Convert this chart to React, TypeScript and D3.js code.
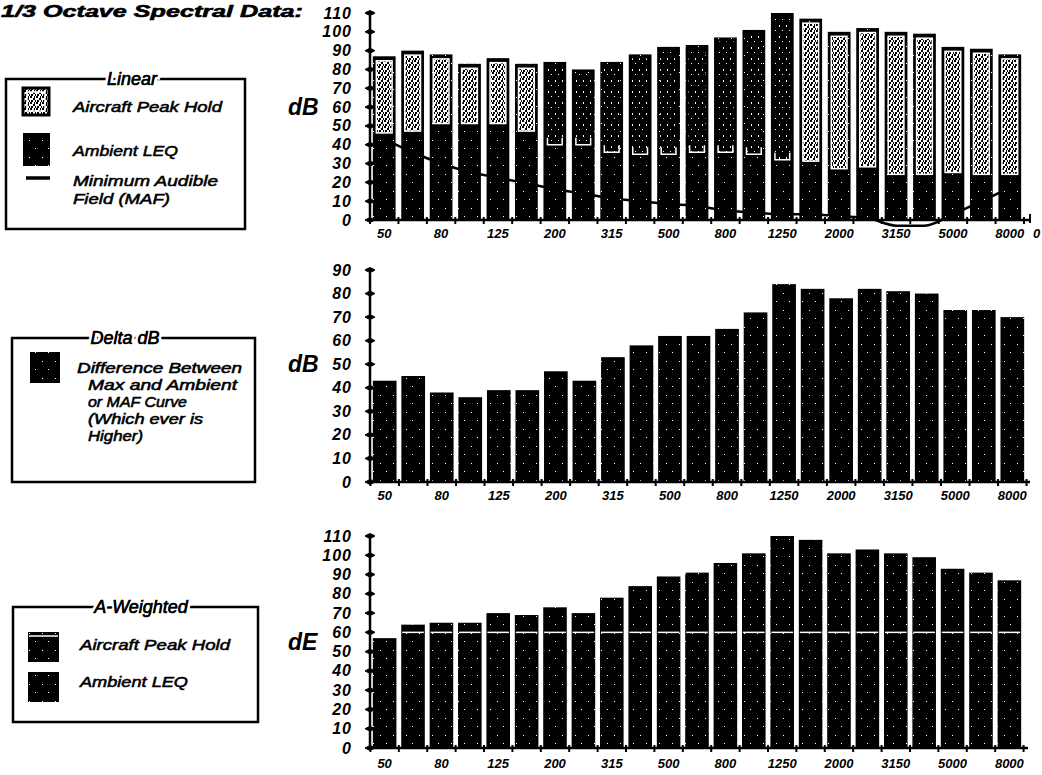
import React from "react";
import * as d3 from "d3";

// ---------- data ----------
const bands = ["50", "63", "80", "100", "125", "160", "200", "250", "315", "400", "500", "630", "800", "1000", "1250", "1600", "2000", "2500", "3150", "4000", "5000", "6300", "8000"];
const labelBands = ["50", "80", "125", "200", "315", "500", "800", "1250", "2000", "3150", "5000", "8000"];

const linearPeak = [87, 90, 88, 83, 86, 83, 84, 80, 84, 88, 92, 93, 97, 101, 110, 107, 100, 102, 100, 99, 92, 91, 88];
const linearAmbient = [46, 47, 51, 51, 51, 47, 40, 40, 36, 35, 35, 36, 36, 35, 32, 31, 27, 28, 24, 24, 25, 24, 24];
const mafCurve = [43, 36, 30, 25.5, 22.5, 19.5, 16.5, 14, 11.5, 10, 8.5, 7.5, 5, 4, 3, 3, 2, 1, -3, -3, 3, 10, 17];
const darkInsetBands = ["200", "250", "315", "400", "500", "630", "800", "1000", "1250"];

const deltaDb = [43, 45, 38, 36, 39, 39, 47, 43, 53, 58, 62, 62, 65, 72, 84, 82, 78, 82, 81, 80, 73, 73, 70];

const aWeightedPeak = [57, 64, 65, 65, 70, 69, 73, 70, 78, 84, 89, 91, 96, 101, 110, 108, 101, 103, 101, 99, 93, 91, 87];
const aWeightedAmbient = [60, 60, 60, 60, 60, 60, 60, 60, 60, 60, 60, 60, 60, 60, 60, 60, 60, 60, 60, 60, 60, 60, 60];

const linearTicks = [0, 10, 20, 30, 40, 50, 60, 70, 80, 90, 100, 110];
const deltaTicks = [0, 10, 20, 30, 40, 50, 60, 70, 80, 90];
const aTicks = [0, 10, 20, 30, 40, 50, 60, 70, 80, 90, 100, 110];

const FONT = "'Liberation Sans', Arial, Helvetica, sans-serif";

const AXIS_X = 370;
const X_END = 1024;

type AxisProps = {
  y: d3.ScaleLinear<number, number>;
  ticks: number[];
  x: d3.ScaleBand<string>;
  title: string;
  titleValue: number;
  labelOffset: number;
  xAxisEnd: number;
};

function Axes({ y, ticks, x, title, titleValue, labelOffset, xAxisEnd }: AxisProps) {
  const y0 = y(0);
  const yTop = y(ticks[ticks.length - 1]);
  const step = x.step();
  const gap = step - x.bandwidth();
  const boundaries = bands.map((b) => (x(b) as number) - gap / 2);
  boundaries.push((x(bands[bands.length - 1]) as number) + x.bandwidth() + gap / 2);
  return (
    <g>
      <line x1={AXIS_X} x2={AXIS_X} y1={yTop} y2={y0} stroke="#000" strokeWidth={2.5} />
      <line x1={AXIS_X - 4} x2={AXIS_X + 4} y1={yTop} y2={yTop} stroke="#000" strokeWidth={2.5} />
      {ticks.map((t) => (
        <g key={t}>
          <path
            d={`M${AXIS_X - 5},${y(t)}L${AXIS_X},${y(t) - 2.5}L${AXIS_X + 5},${y(t)}L${AXIS_X},${y(t) + 2.5}Z`}
            fill="#000"
            stroke="#000"
            strokeWidth={1}
          />
          <text
            x={352}
            y={y(t) + 5.5}
            textAnchor="end"
            fontFamily={FONT}
            fontStyle="italic"
            fontWeight="bold"
            fontSize={16}
            letterSpacing={1}
          >
            {t}
          </text>
        </g>
      ))}
      <text x={288} y={y(titleValue) + 8} fontFamily={FONT} fontStyle="italic" fontWeight="bold" fontSize={23}>
        {title}
      </text>
      <line x1={AXIS_X} x2={xAxisEnd} y1={y0} y2={y0} stroke="#000" strokeWidth={2.5} />
      {boundaries.map((bx, i) => (
        <line key={i} x1={bx} x2={bx} y1={y0 - 3} y2={y0 + 4} stroke="#000" strokeWidth={2} />
      ))}
      {labelBands.map((b) => (
        <text
          key={b}
          x={(x(b) as number) + x.bandwidth() / 2}
          y={y0 + labelOffset}
          textAnchor="middle"
          fontFamily={FONT}
          fontStyle="italic"
          fontWeight="bold"
          fontSize={13}
        >
          {b}
        </text>
      ))}
    </g>
  );
}

function LegendBox({ x, y, w, h, title, titleX }: { x: number; y: number; w: number; h: number; title: string; titleX: number }) {
  return (
    <g>
      <rect x={x} y={y} width={w} height={h} fill="#fff" stroke="#000" strokeWidth={2.5} />
      <text
        x={titleX}
        y={y + 6}
        textAnchor="middle"
        fontFamily={FONT}
        fontStyle="italic"
        fontSize={18}
        fill="#000"
        stroke="#fff"
        strokeWidth={6}
        paintOrder="stroke"
      >
        {title}
      </text>
      <text x={titleX} y={y + 6} textAnchor="middle" fontFamily={FONT} fontStyle="italic" fontSize={18} fill="#000" stroke="#000" strokeWidth={0.5}>
        {title}
      </text>
    </g>
  );
}

export default function App() {
  const xTop = d3.scaleBand<string>().domain(bands).range([AXIS_X, X_END]).paddingInner(0.2).paddingOuter(0.1);
  const xMid = d3.scaleBand<string>().domain(bands).range([AXIS_X, X_END + 3]).paddingInner(0.17).paddingOuter(0.1);
  const xBot = d3.scaleBand<string>().domain(bands).range([AXIS_X, X_END]).paddingInner(0.17).paddingOuter(0.1);

  const yTop = d3.scaleLinear().domain([0, 110]).range([220, 13]);
  const yMid = d3.scaleLinear().domain([0, 90]).range([482, 270]);
  const yBot = d3.scaleLinear().domain([0, 110]).range([748, 536]);

  const mafLine = d3
    .line<number>()
    .x((_, i) => (xTop(bands[i]) as number) + xTop.bandwidth() / 2)
    .y((d) => yTop(d))
    .curve(d3.curveMonotoneX);

  const textStyle = {
    fontFamily: FONT,
    fontStyle: "italic" as const,
    fontSize: 15,
    stroke: "#000",
    strokeWidth: 0.55,
  };

  return (
    <svg width={1042} height={775} style={{ position: "absolute", left: 0, top: 0, background: "#fff" }}>
      <defs>
        <pattern id="lightSpeckle" width={6} height={6} patternUnits="userSpaceOnUse">
          <rect width={6} height={6} fill="#fff" />
          <rect x={0} y={0} width={2} height={2} fill="#000" />
          <rect x={3} y={2} width={2} height={2} fill="#000" />
          <rect x={4} y={0} width={1} height={2} fill="#000" />
          <rect x={1} y={4} width={2} height={2} fill="#000" />
          <rect x={5} y={4} width={1} height={2} fill="#000" />
        </pattern>
        <pattern id="darkInset" width={7} height={11} patternUnits="userSpaceOnUse">
          <rect width={7} height={11} fill="#000" />
          <rect x={2} y={3} width={1} height={2} fill="#fff" />
          <rect x={5} y={8} width={1} height={1} fill="#fff" />
        </pattern>
        <pattern id="darkSpeckle" width={13} height={17} patternUnits="userSpaceOnUse">
          <rect width={13} height={17} fill="#000" />
          <rect x={3} y={4} width={1} height={1} fill="#fff" />
          <rect x={9} y={12} width={1} height={1} fill="#fff" />
        </pattern>
      </defs>

      {/* title */}
      <text x={1} y={17} textLength={302} lengthAdjust="spacingAndGlyphs" fontFamily={FONT} fontStyle="italic" fontWeight="bold" fontSize={17} stroke="#000" strokeWidth={0.6}>
        1/3 Octave Spectral Data:
      </text>

      {/* ---------------- Top chart: Linear ---------------- */}
      <LegendBox x={6} y={79} w={239} h={150} title="Linear" titleX={132} />
      <rect x={23} y={88} width={26} height={27} fill="url(#lightSpeckle)" stroke="#000" strokeWidth={3} />
      <rect x={27} y={92} width={18} height={19} fill="none" stroke="#fff" strokeWidth={1.5} />
      <text x={73} y={112} textLength={149} lengthAdjust="spacingAndGlyphs" {...textStyle}>Aircraft Peak Hold</text>
      <rect x={23} y={133} width={27} height={33} fill="url(#darkSpeckle)" />
      <text x={73} y={156} textLength={105} lengthAdjust="spacingAndGlyphs" {...textStyle}>Ambient LEQ</text>
      <line x1={26} x2={50} y1={178} y2={178} stroke="#000" strokeWidth={3.5} />
      <text x={73} y={186} textLength={145} lengthAdjust="spacingAndGlyphs" {...textStyle}>Minimum Audible</text>
      <text x={73} y={204} textLength={97} lengthAdjust="spacingAndGlyphs" {...textStyle}>Field (MAF)</text>

      <path d={mafLine(mafCurve) || ""} fill="none" stroke="#000" strokeWidth={2.5} />
      {bands.map((b, i) => {
        const bx = xTop(b) as number;
        const bw = xTop.bandwidth();
        const top = yTop(linearPeak[i]);
        const amb = yTop(linearAmbient[i]);
        const dark = darkInsetBands.includes(b);
        return (
          <g key={b}>
            <rect x={bx} y={top} width={bw} height={yTop(0) - top} fill="url(#darkSpeckle)" />
            {dark ? (
              <g>
                <rect x={bx + 3} y={top + 4} width={bw - 6} height={amb - top - 4} fill="url(#darkInset)" />
                <path d={`M${bx + 4},${amb - 7}V${amb}H${bx + bw - 4}V${amb - 7}`} fill="none" stroke="#fff" strokeWidth={1.5} />
              </g>
            ) : (
              <rect x={bx + 3.5} y={top + 4.5} width={bw - 7} height={amb - top - 5} fill="url(#lightSpeckle)" stroke="#fff" strokeWidth={1.5} />
            )}
          </g>
        );
      })}
      <Axes y={yTop} ticks={linearTicks} x={xTop} title="dB" titleValue={60} labelOffset={18} xAxisEnd={1030} />
      <line x1={1030} x2={1030} y1={yTop(0) - 6} y2={yTop(0) + 3} stroke="#000" strokeWidth={2} />
      <text x={1033} y={yTop(0) + 18} fontFamily={FONT} fontStyle="italic" fontWeight="bold" fontSize={13}>0</text>

      {/* ---------------- Middle chart: Delta dB ---------------- */}
      <LegendBox x={12} y={338} w={243} h={144} title="Delta dB" titleX={125} />
      <rect x={30} y={352} width={30} height={31} fill="url(#darkSpeckle)" />
      <text x={77} y={373} textLength={165} lengthAdjust="spacingAndGlyphs" {...textStyle} fontSize={14}>Difference Between</text>
      <text x={88} y={390} textLength={149} lengthAdjust="spacingAndGlyphs" {...textStyle} fontSize={14}>Max and  Ambient</text>
      <text x={88} y={407} textLength={99} lengthAdjust="spacingAndGlyphs" {...textStyle} fontSize={14}>or MAF Curve</text>
      <text x={88} y={424} textLength={115} lengthAdjust="spacingAndGlyphs" {...textStyle} fontSize={14}>(Which ever is</text>
      <text x={88} y={441} textLength={55} lengthAdjust="spacingAndGlyphs" {...textStyle} fontSize={14}>Higher)</text>

      {bands.map((b, i) => {
        const bx = xMid(b) as number;
        const top = yMid(deltaDb[i]);
        return <rect key={b} x={bx} y={top} width={xMid.bandwidth()} height={yMid(0) - top} fill="url(#darkSpeckle)" />;
      })}
      <Axes y={yMid} ticks={deltaTicks} x={xMid} title="dB" titleValue={50} labelOffset={18} xAxisEnd={1030} />

      {/* ---------------- Bottom chart: A-Weighted ---------------- */}
      <LegendBox x={13} y={607} w={245} h={115} title="A-Weighted" titleX={141} />
      <rect x={28} y={632} width={31} height={30} fill="url(#darkSpeckle)" />
      <line x1={29} x2={58} y1={636} y2={636} stroke="#fff" strokeWidth={1.5} />
      <text x={80} y={650} textLength={150} lengthAdjust="spacingAndGlyphs" {...textStyle}>Aircraft Peak Hold</text>
      <rect x={28} y={672} width={31} height={30} fill="url(#darkSpeckle)" />
      <text x={80} y={687} textLength={108} lengthAdjust="spacingAndGlyphs" {...textStyle}>Ambient LEQ</text>

      {bands.map((b, i) => {
        const bx = xBot(b) as number;
        const bw = xBot.bandwidth();
        const top = yBot(aWeightedPeak[i]);
        const amb = yBot(aWeightedAmbient[i]);
        return (
          <g key={b}>
            <rect x={bx} y={top} width={bw} height={yBot(0) - top} fill="url(#darkSpeckle)" />
            {aWeightedPeak[i] > aWeightedAmbient[i] && (
              <line x1={bx + 1} x2={bx + bw - 1} y1={amb} y2={amb} stroke="#fff" strokeWidth={1.5} />
            )}
          </g>
        );
      })}
      <Axes y={yBot} ticks={aTicks} x={xBot} title="dE" titleValue={55} labelOffset={20} xAxisEnd={1028} />
    </svg>
  );
}
